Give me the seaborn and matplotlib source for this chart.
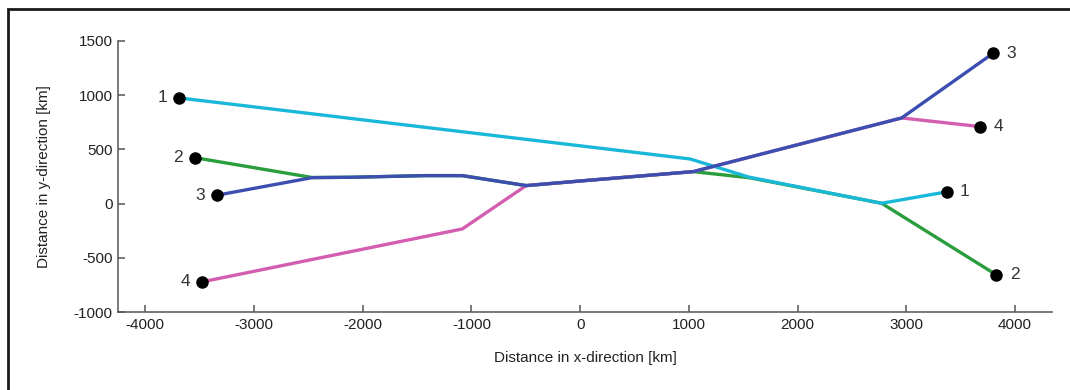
import matplotlib
matplotlib.use("Agg")
import matplotlib.pyplot as plt
import seaborn as sns
import pandas as pd
from matplotlib.patches import Rectangle

# Route data (km)
route1_x = [-3690, 1010, 1550, 2773, 3370]
route1_y = [975, 412, 245, 3, 108]
route2_x = [-3545, -2461, -2094, -1435, -1084, -496, 18, 1040, 1560, 2773, 3829]
route2_y = [424, 240, 243, 258, 258, 166, 210, 295, 238, 3, -658]
route3_x = [-3343, -2461, -2094, -1435, -1084, -496, 18, 1040, 2957, 3799]
route3_y = [77, 240, 243, 258, 258, 166, 210, 295, 790, 1387]
route4_x = [-3477, -1084, -496, 18, 1040, 2957, 3682]
route4_y = [-722, -234, 166, 210, 295, 790, 710]
route_labels = ["1", "2", "3", "4"]
route_colors = ["#1ab8d8", "#2a9d3c", "#3c4fb0", "#d35eb0"]

routes = [(route1_x, route1_y), (route2_x, route2_y),
          (route3_x, route3_y), (route4_x, route4_y)]

sns.set_theme(style="white")
plt.rcParams['font.family'] = ['Liberation Sans', 'DejaVu Sans']
plt.rcParams['axes.unicode_minus'] = False

fig = plt.figure(figsize=(10.7, 3.9), dpi=100)
ax = fig.add_axes([0.1103, 0.2, 0.9832 - 0.1103, 0.8949 - 0.2])

# drawing order: 2, 4, 1, 3
order = [1, 3, 0, 2]
for i in order:
    xs, ys = routes[i]
    df = pd.DataFrame({"x": xs, "y": ys})
    sns.lineplot(data=df, x="x", y="y", sort=False, color=route_colors[i],
                 lw=2.4, ax=ax, zorder=2 + order.index(i))

for i, (xs, ys) in enumerate(routes):
    ax.plot([xs[0], xs[-1]], [ys[0], ys[-1]], 'o', color='black',
            markersize=8, zorder=10, linestyle='none')
    ax.annotate(route_labels[i], (xs[0], ys[0]), xytext=(-12, 0),
                textcoords='offset points', ha='center', va='center',
                fontsize=12.5, color='#333333')
    ax.annotate(route_labels[i], (xs[-1], ys[-1]), xytext=(13, 0),
                textcoords='offset points', ha='center', va='center',
                fontsize=12.5, color='#333333')

ax.set_xlim(-4250, 4340)
ax.set_ylim(-1000, 1500)
ax.set_xticks([-4000, -3000, -2000, -1000, 0, 1000, 2000, 3000, 4000])
ax.set_yticks([-1000, -500, 0, 500, 1000, 1500])
ax.set_xlabel("Distance in x-direction [km]", fontsize=11, color='#222222', labelpad=14)
ax.set_ylabel("Distance in y-direction [km]", fontsize=11, color='#222222', labelpad=16)

for s in ['top', 'right']:
    ax.spines[s].set_visible(False)
for s in ['left', 'bottom']:
    ax.spines[s].set_color('#555555')
    ax.spines[s].set_linewidth(1.1)
ax.tick_params(bottom=True, left=True, direction='in', length=5, width=1.1,
               color='#555555', labelsize=11, labelcolor='#222222', pad=4)

# outer frame (partially cropped)
fig.patches.append(Rectangle((8 / 1070, -0.1), 1.2, 1 - 9 / 390 + 0.1,
                             transform=fig.transFigure, fill=False,
                             edgecolor='#1a1a1a', linewidth=2.0, clip_on=False))

fig.savefig("out.png", dpi=100)
